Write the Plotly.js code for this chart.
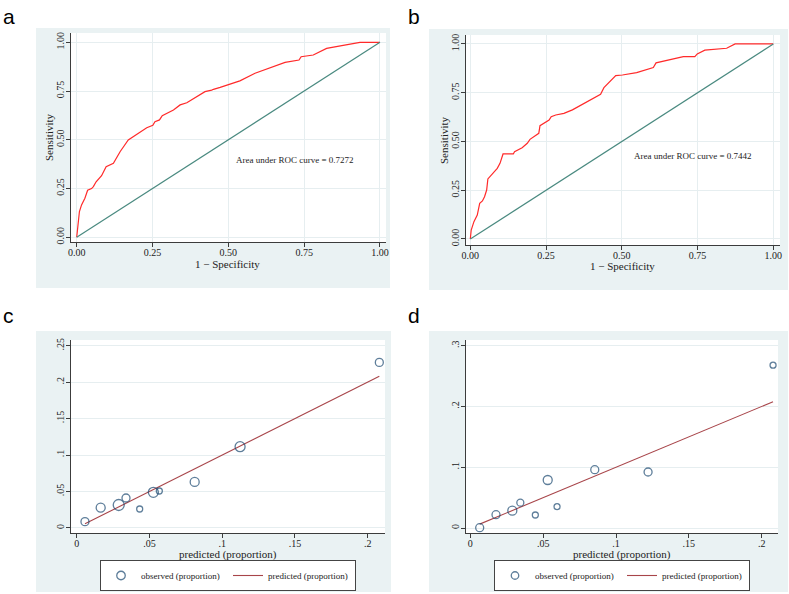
<!DOCTYPE html>
<html><head><meta charset="utf-8">
<script src="https://cdn.plot.ly/plotly-3.0.1.min.js"></script>
<style>html,body{margin:0;padding:0;background:#fff}#chart{width:789px;height:594px}</style>
</head><body><div id="chart"></div>
<script>
// ---------- data ----------
const rocA_fpr = [0,0.002,0.009,0.016,0.027,0.036,0.049,0.055,0.064,0.082,0.093,0.097,0.121,0.143,0.170,0.198,0.225,0.231,0.251,0.258,0.273,0.282,0.319,0.341,0.363,0.423,0.445,0.451,0.473,0.489,0.505,0.522,0.538,0.588,0.632,0.687,0.733,0.740,0.780,0.824,0.874,0.934,1];
const rocA_tpr = [0,0.038,0.132,0.166,0.200,0.241,0.250,0.260,0.285,0.316,0.345,0.362,0.379,0.439,0.499,0.528,0.554,0.562,0.574,0.593,0.602,0.624,0.653,0.679,0.690,0.747,0.755,0.759,0.769,0.778,0.785,0.795,0.802,0.841,0.867,0.897,0.909,0.926,0.935,0.969,0.983,1.0,1];
const rocB_fpr = [0,0.003,0.012,0.023,0.031,0.040,0.047,0.054,0.058,0.089,0.098,0.108,0.142,0.146,0.171,0.188,0.197,0.219,0.226,0.230,0.260,0.267,0.282,0.309,0.337,0.430,0.441,0.480,0.502,0.549,0.604,0.613,0.659,0.703,0.741,0.749,0.774,0.846,0.874,1];
const rocB_tpr = [0,0.046,0.089,0.123,0.183,0.195,0.217,0.251,0.308,0.362,0.388,0.436,0.436,0.448,0.468,0.491,0.511,0.538,0.542,0.581,0.610,0.627,0.636,0.644,0.662,0.742,0.776,0.838,0.841,0.853,0.879,0.903,0.918,0.935,0.935,0.949,0.968,0.978,1.0,1];
const aucA = 'Area under ROC curve = 0.7272';
const aucB = 'Area under ROC curve = 0.7442';

const calC_pred = [0.0057,0.0165,0.0289,0.0339,0.0433,0.0527,0.0568,0.0811,0.1123,0.2080];
const calC_obs  = [0.0087,0.0279,0.0315,0.0411,0.0260,0.0489,0.0507,0.0631,0.1115,0.2271];
const calC_n    = [8,9,11,8,6,10,6,9,10,8];
const calD_pred = [0.0064,0.0176,0.0288,0.0343,0.0446,0.0531,0.0595,0.0854,0.1220,0.2078];
const calD_obs  = [0.0005,0.0219,0.0285,0.0417,0.0214,0.0790,0.0351,0.0960,0.0922,0.2680];
const calD_n    = [8,8,9,7,6,9,6,8,8,6];

const rocTicks = [0,0.25,0.5,0.75,1];
const rocTickText = ['0.00','0.25','0.50','0.75','1.00'];
const calXTicks = [0,0.05,0.1,0.15,0.2];
const calXText = ['0','.05','.1','.15','.2'];
const calCYTicks = [0,0.05,0.1,0.15,0.2,0.25];
const calCYText = ['0','.05','.1','.15','.2','.25'];
const calDYTicks = [0,0.1,0.2,0.3];
const calDYText = ['0','.1','.2','.3'];
const rocXTitle = '1 \u2212 Specificity';
const rocYTitle = 'Sensitivity';
const calXTitle = 'predicted (proportion)';

// ---------- styling ----------
const W = 789, H = 594;
const px = v => v / W, py = v => 1 - v / H;
const SERIF = 'Liberation Serif, Times New Roman, serif';
const BG = '#eaf2f3', GRID = '#e6eef0', AX = '#3c3c3c';
const RED = '#ff2a2a', TEAL = '#4a8a80', NAVY = '#1a476f', MAROON = '#a8454a';

function axisBase(extra) {
  return Object.assign({
    showline: true, linecolor: AX, linewidth: 1,
    ticks: 'outside', ticklen: 4, tickcolor: AX, tickwidth: 1,
    zeroline: false, gridcolor: GRID, gridwidth: 1,
    tickfont: {family: SERIF, size: 10, color: '#222'},
    tickmode: 'array', fixedrange: true
  }, extra);
}
const XS = -3, YS = -2;

const traces = [
  {x: rocA_fpr, y: rocA_tpr, xaxis: 'x', yaxis: 'y', mode: 'lines', line: {color: RED, width: 1.2}, showlegend: false, hoverinfo: 'skip'},
  {x: [0, 1], y: [0, 1], xaxis: 'x', yaxis: 'y', mode: 'lines', line: {color: TEAL, width: 1.2}, showlegend: false, hoverinfo: 'skip'},
  {x: rocB_fpr, y: rocB_tpr, xaxis: 'x2', yaxis: 'y2', mode: 'lines', line: {color: RED, width: 1.2}, showlegend: false, hoverinfo: 'skip'},
  {x: [0, 1], y: [0, 1], xaxis: 'x2', yaxis: 'y2', mode: 'lines', line: {color: TEAL, width: 1.2}, showlegend: false, hoverinfo: 'skip'},
  {x: calC_pred, y: calC_pred, xaxis: 'x3', yaxis: 'y3', mode: 'lines', name: 'predicted (proportion)', line: {color: MAROON, width: 1.1}, legend: 'legend', legendrank: 2},
  {x: calC_pred, y: calC_obs, xaxis: 'x3', yaxis: 'y3', mode: 'markers', name: 'observed (proportion)', marker: {symbol: 'circle-open', size: calC_n, color: NAVY, line: {width: 1.3, color: NAVY}}, legend: 'legend', legendrank: 1},
  {x: calD_pred, y: calD_pred, xaxis: 'x4', yaxis: 'y4', mode: 'lines', name: 'predicted (proportion)', line: {color: MAROON, width: 1.1}, legend: 'legend2', legendrank: 2},
  {x: calD_pred, y: calD_obs, xaxis: 'x4', yaxis: 'y4', mode: 'markers', name: 'observed (proportion)', marker: {symbol: 'circle-open', size: calD_n, color: NAVY, line: {width: 1.3, color: NAVY}}, legend: 'legend2', legendrank: 1}
];

function box(x0, y0, x1, y1, color) {
  return {type: 'rect', xref: 'paper', yref: 'paper', x0: px(x0), x1: px(x1), y0: py(y1), y1: py(y0), fillcolor: color, line: {width: 0}, layer: 'below'};
}
function letter(t, x, y) {
  return {text: t, xref: 'paper', yref: 'paper', x: px(x), y: py(y), xanchor: 'left', yanchor: 'top', showarrow: false, font: {family: 'Liberation Sans, Arial, sans-serif', size: 21, color: '#000'}};
}
function title(t, x, y, rot) {
  return {text: t, xref: 'paper', yref: 'paper', x: px(x), y: py(y), xanchor: 'center', yanchor: 'middle', showarrow: false, textangle: rot || 0, font: {family: SERIF, size: 11, color: '#222'}};
}
const legendStyle = {
  orientation: 'h', xanchor: 'left', yanchor: 'top', bgcolor: '#fff', bordercolor: '#444', borderwidth: 1,
  font: {family: SERIF, size: 9, color: '#222'}, traceorder: 'normal', itemwidth: 30, entrywidth: 82, entrywidthmode: 'pixels'
};

const layout = {
  width: W, height: H, margin: {l: 0, r: 0, t: 0, b: 0},
  paper_bgcolor: '#fff', plot_bgcolor: 'rgba(0,0,0,0)',
  xaxis: axisBase({domain: [px(71), px(386)], range: [-0.0188, 1.0198], anchor: 'y', tickvals: rocTicks, ticktext: rocTickText, ticklabelstandoff: XS}),
  yaxis: axisBase({domain: [py(242), py(33)], range: [-0.0241, 1.0477], anchor: 'x', tickvals: rocTicks, ticktext: rocTickText, tickangle: -90, ticklabelstandoff: YS}),
  xaxis2: axisBase({domain: [px(466), px(780)], range: [-0.0142, 1.0221], anchor: 'y2', tickvals: rocTicks, ticktext: rocTickText, ticklabelstandoff: XS}),
  yaxis2: axisBase({domain: [py(245), py(35)], range: [-0.0308, 1.046], anchor: 'x2', tickvals: rocTicks, ticktext: rocTickText, tickangle: -90, ticklabelstandoff: YS}),
  xaxis3: axisBase({domain: [px(71), px(385)], range: [-0.0039, 0.2119], anchor: 'y3', tickvals: calXTicks, ticktext: calXText, showgrid: false, ticklabelstandoff: XS}),
  yaxis3: axisBase({domain: [py(533), py(340)], range: [-0.0069, 0.2578], anchor: 'x3', tickvals: calCYTicks, ticktext: calCYText, tickangle: -90, ticklabelstandoff: YS}),
  xaxis4: axisBase({domain: [px(466), px(778)], range: [-0.003, 0.2112], anchor: 'y4', tickvals: calXTicks, ticktext: calXText, showgrid: false, ticklabelstandoff: XS}),
  yaxis4: axisBase({domain: [py(533), py(340)], range: [-0.0082, 0.3094], anchor: 'x4', tickvals: calDYTicks, ticktext: calDYText, tickangle: -90, ticklabelstandoff: YS}),
  shapes: [
    box(36, 28, 390, 288, BG), box(429, 29, 788, 290, BG), box(36, 331, 391, 592, BG), box(429, 331, 788, 592, BG),
    box(71, 33, 386, 242, '#fff'), box(466, 35, 780, 245, '#fff'), box(71, 340, 385, 533, '#fff'), box(466, 340, 778, 533, '#fff')
  ],
  annotations: [
    letter('a', 1, 3), letter('b', 406, 3), letter('c', 1, 302), letter('d', 406, 302),
    title(rocXTitle, 228, 264), title(rocYTitle, 49, 137, -90),
    title(rocXTitle, 622, 266), title(rocYTitle, 444, 140, -90),
    title(calXTitle, 228, 554), title(calXTitle, 622, 554),
    {text: aucA, xref: 'x', yref: 'y', x: 0.72, y: 0.396, showarrow: false, font: {family: SERIF, size: 9, color: '#222'}},
    {text: aucB, xref: 'x2', yref: 'y2', x: 0.735, y: 0.426, showarrow: false, font: {family: SERIF, size: 9, color: '#222'}}
  ],
  legend: Object.assign({x: px(100), y: py(560)}, legendStyle),
  legend2: Object.assign({x: px(494), y: py(560)}, legendStyle),
  hovermode: false
};

Plotly.newPlot('chart', traces, layout, {displayModeBar: false, staticPlot: true});
</script>
</body></html>
